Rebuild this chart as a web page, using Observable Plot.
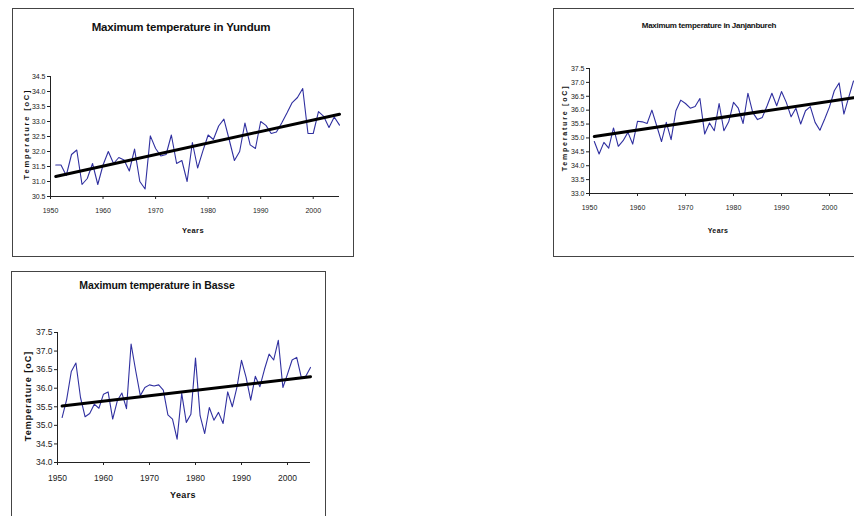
<!DOCTYPE html>
<html><head><meta charset="utf-8">
<script src="https://cdn.jsdelivr.net/npm/d3@7"></script>
<script src="https://cdn.jsdelivr.net/npm/@observablehq/plot@0.6"></script>
<style>
html,body{margin:0;padding:0;background:#fff;}
#page{position:relative;width:854px;height:516px;overflow:hidden;background:#fff;font-family:"Liberation Sans",Arial,sans-serif;}
.box{position:absolute;border:1px solid #444;box-sizing:border-box;}
.lab{position:absolute;white-space:nowrap;font-weight:bold;color:#111;transform:translate(-50%,-50%);}
.ylab{position:absolute;white-space:nowrap;font-weight:bold;color:#111;transform:translate(-50%,-50%) rotate(-90deg);}
.plot{position:absolute;}
</style>
</head><body><div id="page"></div>
<script>
const years = d3.range(1951, 2006);
const yundum = [31.55,31.55,31.2,31.9,32.05,30.9,31.1,31.6,30.9,31.55,
  32.0,31.6,31.8,31.72,31.35,32.08,31.0,30.75,32.52,32.1,
  31.85,31.9,32.55,31.6,31.7,31.0,32.3,31.45,32.02,32.55,
  32.4,32.85,33.08,32.4,31.7,32.0,32.95,32.22,32.1,33.0,
  32.87,32.6,32.65,32.95,33.28,33.63,33.8,34.1,32.6,32.6,
  33.33,33.17,32.8,33.15,32.88];
const janjanbureh = [34.87,34.42,34.84,34.63,35.36,34.7,34.9,35.2,34.78,35.6,
  35.58,35.52,36.0,35.44,34.87,35.56,34.94,35.98,36.36,36.24,
  36.07,36.13,36.42,35.14,35.54,35.26,36.24,35.26,35.58,36.28,
  36.07,35.52,36.61,35.92,35.66,35.74,36.16,36.61,36.16,36.67,
  36.28,35.76,36.07,35.5,35.98,36.13,35.56,35.28,35.68,36.12,
  36.7,36.98,35.86,36.46,37.05];
const basse = [35.21,35.7,36.45,36.68,35.75,35.23,35.32,35.57,35.46,35.84,
  35.9,35.17,35.66,35.87,35.45,37.19,36.47,35.8,36.02,36.09,
  36.06,36.09,35.95,35.28,35.17,34.63,35.86,35.08,35.3,36.81,
  35.26,34.78,35.48,35.14,35.35,35.05,35.9,35.5,36.02,36.75,
  36.29,35.68,36.32,36.04,36.51,36.92,36.76,37.29,36.02,36.38,
  36.76,36.83,36.29,36.33,36.56];
const yearTicks = [1950,1960,1970,1980,1990,2000];
const yundumTicks = [30.5,31.0,31.5,32.0,32.5,33.0,33.5,34.0,34.5];
const janjanTicks = [33.0,33.5,34.0,34.5,35.0,35.5,36.0,36.5,37.0,37.5];
const basseTicks = [34.0,34.5,35.0,35.5,36.0,36.5,37.0,37.5];
const titles = ["Maximum temperature in Yundum","Maximum temperature in Janjanbureh","Maximum temperature in Basse"];
const xLabel = "Years";
const yLabel = "Temperature [oC]";

const page = document.getElementById("page");
function el(cls, text, css){const d=document.createElement("div");d.className=cls;if(text)d.textContent=text;Object.assign(d.style,css);page.appendChild(d);return d;}

function panel(cfg){
  el("box",null,{left:cfg.box[0]+"px",top:cfg.box[1]+"px",width:cfg.box[2]+"px",height:cfg.box[3]+"px"});
  el("lab",cfg.title,{left:cfg.titlePos[0]+"px",top:cfg.titlePos[1]+"px",fontSize:cfg.titleSize+"px",letterSpacing:(cfg.titleLS||0)+"px"});
  el("lab",xLabel,{left:cfg.xlabPos[0]+"px",top:cfg.xlabPos[1]+"px",fontSize:cfg.labSize+"px",letterSpacing:"0.4px"});
  el("ylab",yLabel,{left:cfg.ylabPos[0]+"px",top:cfg.ylabPos[1]+"px",fontSize:cfg.labSize+"px",letterSpacing:cfg.yLS+"px"});
  const data = years.map((y,i)=>({year:y,value:cfg.values[i]}));
  const p = Plot.plot({
    width:cfg.svg[2], height:cfg.svg[3],
    marginLeft:cfg.m[0], marginRight:cfg.m[1], marginTop:cfg.m[2], marginBottom:cfg.m[3],
    style:{fontFamily:"'Liberation Sans Narrow','Liberation Sans',Arial,sans-serif",fontSize:cfg.tickSize+"px",color:"#222",background:"transparent",overflow:"visible"},
    x:{domain:[1950,2005]},
    y:{domain:[cfg.ticks[0],cfg.ticks[cfg.ticks.length-1]]},
    marks:[
      Plot.axisX({ticks:yearTicks,tickFormat:d=>String(d),tickSize:3,tickPadding:cfg.xPad,label:null,stroke:"#222"}),
      Plot.axisY({ticks:cfg.ticks,tickFormat:d=>d.toFixed(1),tickSize:3,tickPadding:2,label:null,stroke:"#222"}),
      Plot.ruleX([1950],{stroke:"#222"}),
      Plot.ruleY([cfg.ticks[0]],{stroke:"#222"}),
      Plot.lineY(data,{x:"year",y:"value",stroke:"#3030a0",strokeWidth:1.1}),
      Plot.linearRegressionY(data,{x:"year",y:"value",stroke:"#000",strokeWidth:3,ci:0})
    ]
  });
  p.classList.add("plot");
  Object.assign(p.style,{left:cfg.svg[0]+"px",top:cfg.svg[1]+"px"});
  page.appendChild(p);
}

panel({values:yundum,ticks:yundumTicks,title:titles[0],
  box:[12,8,342,249],titlePos:[181,27],titleSize:11.5,titleLS:-0.2,
  svg:[12,60,341,180],m:[38,14,16,44],tickSize:7,xPad:9,
  xlabPos:[193,230],ylabPos:[26,134],labSize:7.5,yLS:1.8});
panel({values:janjanbureh,ticks:janjanTicks,title:titles[1],
  box:[553,8,310,249],titlePos:[709,25],titleSize:8,titleLS:-0.3,
  svg:[553,55,301,185],m:[36,1,13,47],tickSize:7,xPad:9,
  xlabPos:[718,230],ylabPos:[564,128],labSize:7,yLS:1.8});
panel({values:basse,ticks:basseTicks,title:titles[2],
  box:[11,271,315,260],titlePos:[157,285],titleSize:10.5,titleLS:-0.1,
  svg:[11,315,314,180],m:[46,15,17,33],tickSize:8.5,xPad:9,
  xlabPos:[183,495],ylabPos:[28,396],labSize:9,yLS:1});
</script></body></html>
